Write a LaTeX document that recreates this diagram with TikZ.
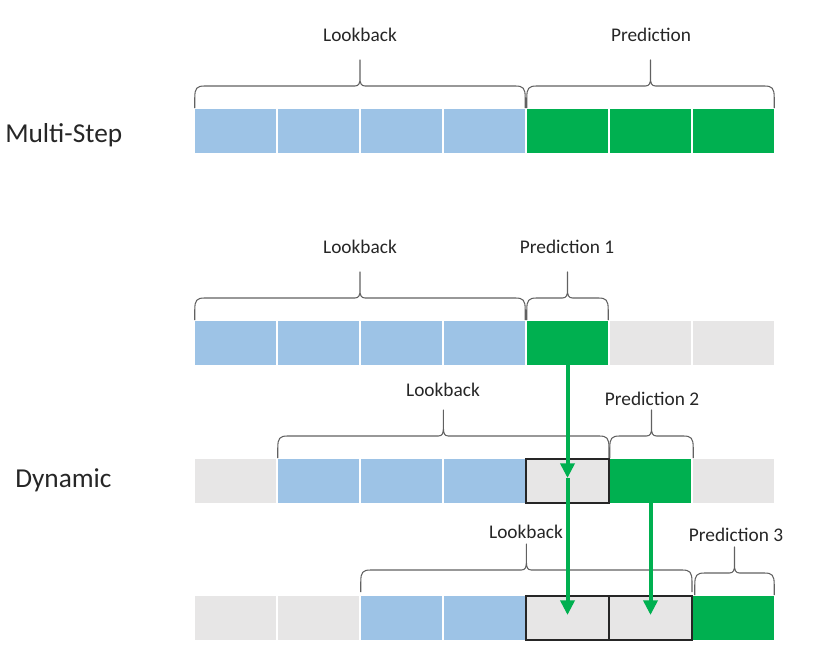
\documentclass[tikz,border=0pt]{standalone}
\usepackage{fontspec}
\setmainfont{Carlito}
\usepackage{tikz}
\usetikzlibrary{calc,arrows.meta,positioning}
\definecolor{lookBlue}{HTML}{9DC3E6}
\definecolor{predGreen}{HTML}{00B050}
\definecolor{idleGrey}{HTML}{E7E6E6}
\colorlet{braceGrey}{black!62}
\colorlet{inkDark}{black!85}

% curly brace over a span of cells: #1 left end, #2 right end
\newcommand{\spanbrace}[2]{%
  \coordinate (bl) at (#1);
  \coordinate (br) at (#2);
  \coordinate (bm) at ($(bl)!0.5!(br)$);
  \draw[bracepen] (bl) -- ($(bl)+(0,-10)$)
    .. controls ($(bl)+(0,-20)$) and ($(bl)+(2,-22)$) .. ($(bl)+(10,-22)$)
    -- ($(bm)+(-5,-22)$) .. controls ($(bm)+(-1,-22)$) and ($(bm)+(0,-25)$) .. ($(bm)+(0,-30)$)
    -- ($(bm)+(0,-48)$) -- ($(bm)+(0,-30)$)
    .. controls ($(bm)+(0,-25)$) and ($(bm)+(1,-22)$) .. ($(bm)+(5,-22)$)
    -- ($(br)+(-10,-22)$) .. controls ($(br)+(-2,-22)$) and ($(br)+(0,-20)$) .. ($(br)+(0,-10)$)
    -- (br);
}

\begin{document}
\begin{tikzpicture}[x=0.75pt, y=-0.75pt,
    cell/.style={minimum width=61.1pt, minimum height=33pt, inner sep=0pt, outer sep=0pt},
    look cell/.style={cell, fill=lookBlue},
    pred cell/.style={cell, fill=predGreen},
    idle cell/.style={cell, fill=idleGrey},
    reused cell/.style={cell, fill=idleGrey, draw=inkDark, line width=1.1pt, minimum width=62.25pt},
    bracepen/.style={braceGrey, line width=0.8pt, line join=round},
    tag/.style={inkDark, font=\fontsize{14.5}{17}\selectfont, inner sep=0pt, anchor=base},
    title/.style={inkDark, font=\fontsize{20.5}{24}\selectfont, inner sep=0pt, anchor=base west},
    flow/.style={predGreen, line width=3pt, -{Triangle[width=10.5pt,length=11pt]}}]
  \useasboundingbox (0,0) rectangle (829,671);

  % Row labels
  \node[title] (multi) at (5,142) {Multi-Step};
  \node[title] (dyn) at (15,487) {Dynamic};

  % Multi-step row
  \foreach \kind [count=\i] in {look,look,look,look,pred,pred,pred}
    \node[\kind\space cell] (ms\i) at (152.5+83*\i,131) {};
  % Dynamic rows
  \foreach \kind [count=\i] in {look,look,look,look,pred,idle,idle}
    \node[\kind\space cell] (da\i) at (152.5+83*\i,343) {};
  \foreach \kind [count=\i] in {idle,look,look,look,reused,pred,idle}
    \node[\kind\space cell] (db\i) at (152.5+83*\i,481) {};
  \foreach \kind [count=\i] in {idle,idle,look,look,reused,reused,pred}
    \node[\kind\space cell] (dc\i) at (152.5+83*\i,618) {};

  % Braces
  \spanbrace{$(ms1.north west)+(0,-1)$}{$(ms4.north east)+(0,-1)$}
  \spanbrace{$(ms5.north west)+(0,-1)$}{$(ms7.north east)+(0,-1)$}
  \spanbrace{$(da1.north west)+(0,-1)$}{$(da4.north east)+(0,-1)$}
  \spanbrace{$(da5.north west)+(0,-1)$}{$(da5.north east)+(0,-1)$}
  \spanbrace{$(db2.north west)+(0,-1)$}{$(db5.north east)+(0,-1)$}
  \spanbrace{$(db6.north west)+(0,-1)$}{$(db6.north east)+(2,-1)$}
  \spanbrace{$(dc3.north west)+(0,-4)$}{$(dc6.north east)+(0,-4)$}
  \spanbrace{$(dc7.north west)+(2,-1)$}{$(dc7.north east)+(0,-1)$}

  % Brace labels
  \node[tag] (lbMS) at (360,41) {Lookback};
  \node[tag] (prMS) at (651,41) {Prediction};
  \node[tag] (lbA) at (360,253) {Lookback};
  \node[tag] (prA) at (567,253) {Prediction 1};
  \node[tag] (lbB) at (443,396) {Lookback};
  \node[tag] (prB) at (652,405) {Prediction 2};
  \node[tag] (lbC) at (526,538) {Lookback};
  \node[tag] (prC) at (736,541) {Prediction 3};

  % Predictions fed back as inputs
  \draw[flow] (da5.south) -- ($(db5.center)+(0,-3)$);
  \draw[flow] ($(db5.center)+(0,-3)$) -- ($(dc5.center)+(0,-3)$);
  \draw[flow] (db6.south) -- ($(dc6.center)+(0,-3)$);
\end{tikzpicture}
\end{document}
